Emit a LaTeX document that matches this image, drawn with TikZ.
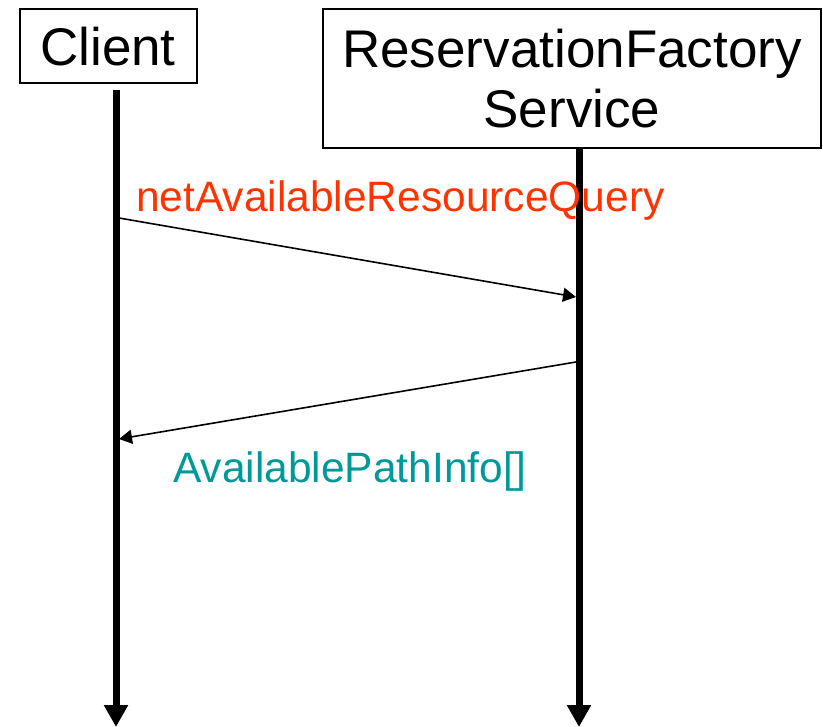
\documentclass[tikz,border=0pt]{standalone}
\usepackage{fontspec}
\setmainfont{Liberation Sans}
\usetikzlibrary{arrows.meta}
\definecolor{msgred}{HTML}{FF3300}
\definecolor{msgteal}{HTML}{009999}
\begin{document}
\begin{tikzpicture}[x=1pt,y=-1pt,
  objbox/.style={draw=black,line width=2pt,inner sep=0pt,align=center,
    font=\fontsize{53}{60}\selectfont},
  lifeline/.style={line width=7pt,-{Triangle[width=23pt,length=22pt]}},
  message/.style={line width=1.6pt,-{Triangle[width=14pt,length=13pt]}},
  msglabel/.style={inner sep=0pt,anchor=base west,font=\fontsize{42.5}{48}\selectfont}]
  \useasboundingbox (0,0) rectangle (823,727);
  % participant boxes
  \node[objbox,minimum width=177pt,minimum height=74pt] (client) at (108,46.5) {Client};
  \node[objbox,minimum width=498pt,minimum height=139pt] (service) at (572,78.5)
    {ReservationFactory\\Service};
  % lifelines
  \coordinate (clientTop) at (116,90);
  \coordinate (clientEnd) at (116,727);
  \coordinate (serviceTop) at (579,148);
  \coordinate (serviceEnd) at (579,727);
  \draw[lifeline] (clientTop) -- (clientEnd);
  \draw[lifeline] (serviceTop) -- (serviceEnd);
  % message end points on the lifelines
  \coordinate (reqFrom) at (119,218);
  \coordinate (reqTo) at (576,297);
  \coordinate (repFrom) at (576,362);
  \coordinate (repTo) at (119,439);
  \draw[message] (reqFrom) -- (reqTo);
  \draw[message] (repFrom) -- (repTo);
  % message labels
  \node[msglabel,text=msgred] (reqLabel) at (136,212) {netAvailableResourceQuery};
  \node[msglabel,text=msgteal] (repLabel) at (173,483) {AvailablePathInfo[]};
\end{tikzpicture}
\end{document}
